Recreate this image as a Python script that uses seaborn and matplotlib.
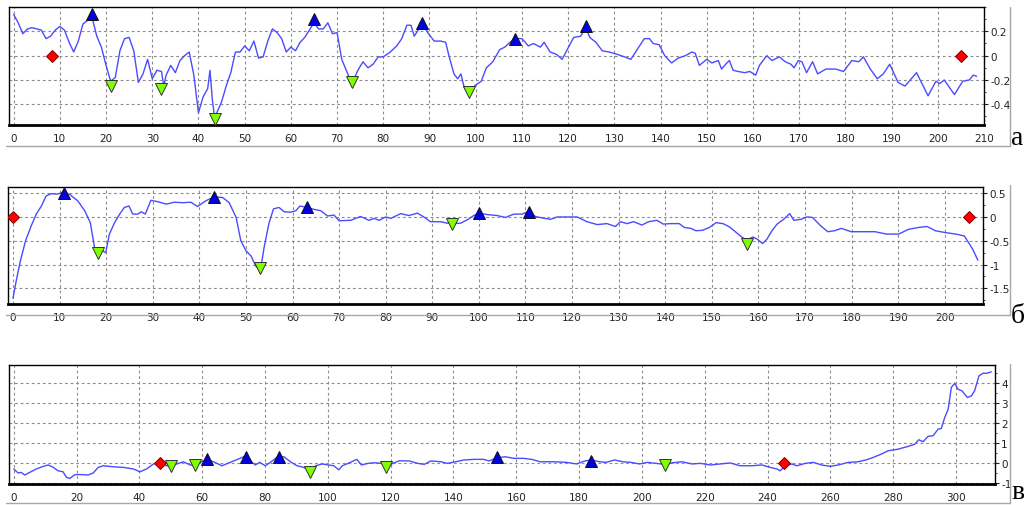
import numpy as np
import matplotlib
matplotlib.use("Agg")
import matplotlib.pyplot as plt
import seaborn as sns
from matplotlib.lines import Line2D
from matplotlib.ticker import MultipleLocator

# --- panel a ---
a_x = [0, 1, 2, 3, 4, 5, 6, 7, 8, 9, 10, 11, 12, 13, 14, 15, 16, 17, 18, 19, 20, 21, 22, 23, 24, 25,
       26, 27, 28, 29, 30, 31, 32, 32.5, 33, 34, 35, 36, 37, 38, 39, 40, 41, 42, 42.5, 43, 43.5, 45,
       46, 47, 48, 49, 50, 51, 52, 53, 54, 55, 56, 57, 58, 59, 60, 61, 62, 63, 64, 65, 66, 67, 68,
       69, 70, 71, 72, 73.2, 74.5, 75.6, 76.7, 77.8, 78.9, 80, 81.5, 82.9, 84, 85.1, 86, 86.7, 87.7,
       88.4, 89.6, 91, 92.4, 93.5, 94.2, 95.3, 96.1, 96.8, 97.5, 98.6, 99.7, 101.2, 102.3, 103.7,
       105.2, 106.3, 107.4, 108.5, 110, 111.4, 112.5, 114, 114.8, 116.1, 117.5, 118.7, 120.1, 121.2,
       122.7, 123.8, 124.7, 126, 127.4, 128.9, 130.7, 132.2, 133.6, 135.1, 136.5, 137.6, 138.4,
       139.7, 140.9, 142.4, 143.8, 145.4, 146.8, 147.5, 148.4, 150, 151.1, 152.5, 153.2, 154.1,
       154.9, 155.7, 156.8, 158.2, 159.3, 160.6, 161.4, 163, 164.1, 165.7, 167, 168.2, 168.9, 169.8,
       170.6, 171.6, 172.9, 174, 175.8, 177.9, 179.6, 181.4, 182.9, 183.9, 185.4, 186.9, 188.2,
       189.6, 191.4, 192.9, 195.4, 197.9, 199.6, 200.4, 201.4, 203.6, 205.4, 206.8, 207.7, 208.4]
a_y = [0.34, 0.27, 0.18, 0.22, 0.23, 0.22, 0.21, 0.14, 0.16, 0.21, 0.24, 0.21, 0.11, 0.03, 0.12,
       0.26, 0.29, 0.31, 0.16, 0.07, -0.08, -0.21, -0.18, 0.04, 0.14, 0.15, 0.04, -0.22, -0.15,
       -0.03, -0.19, -0.12, -0.13, -0.25, -0.16, -0.08, -0.14, -0.04, 0.0, 0.03, -0.16, -0.47,
       -0.34, -0.27, -0.12, -0.36, -0.51, -0.38, -0.25, -0.14, 0.03, 0.03, 0.08, 0.04, 0.12, -0.02,
       -0.01, 0.12, 0.22, 0.19, 0.14, 0.03, 0.07, 0.04, 0.11, 0.15, 0.21, 0.27, 0.22, 0.22, 0.27,
       0.18, 0.19, -0.03, -0.12, -0.23, -0.12, -0.05, -0.10, -0.07, -0.01, -0.01, 0.03, 0.08, 0.14,
       0.25, 0.25, 0.16, 0.22, 0.27, 0.19, 0.12, 0.12, 0.11, 0.0, -0.15, -0.19, -0.15, -0.26, -0.32,
       -0.25, -0.21, -0.10, -0.05, 0.05, 0.07, 0.11, 0.14, 0.14, 0.08, 0.10, 0.07, 0.11, 0.03, 0.01,
       -0.03, 0.07, 0.15, 0.16, 0.23, 0.15, 0.11, 0.04, 0.03, 0.01, -0.01, -0.03, 0.06, 0.14, 0.14,
       0.10, 0.09, 0.0, -0.06, -0.02, 0.0, 0.03, 0.02, -0.08, -0.03, -0.06, -0.04, -0.11, -0.07,
       -0.04, -0.12, -0.13, -0.14, -0.13, -0.16, -0.08, 0.0, -0.04, -0.01, -0.05, -0.07, -0.10,
       -0.04, -0.05, -0.14, -0.05, -0.15, -0.11, -0.11, -0.13, -0.04, -0.05, -0.01, -0.11, -0.19,
       -0.15, -0.07, -0.22, -0.25, -0.14, -0.33, -0.21, -0.23, -0.20, -0.32, -0.21, -0.20, -0.16,
       -0.17]
a_up_x = [17, 65, 88.4, 108.5, 123.8]
a_up_y = [0.34, 0.30, 0.27, 0.14, 0.24]
a_dn_x = [21, 32, 43.5, 73.2, 98.6]
a_dn_y = [-0.25, -0.27, -0.52, -0.22, -0.30]
a_end_x = [8.3, 205]
a_end_y = [0, 0]

# --- panel b ---
b_x = [0, 0.7, 1.6, 2.7, 3.9, 5, 6.1, 7.1, 8.2, 9.3, 10.7, 12.1, 13.9, 15.4, 16.6, 17.5, 18.2,
       18.9, 19.9, 20.7, 21.8, 22.9, 23.9, 24.9, 25.7, 26.8, 27.5, 28.4, 29.6, 31.1, 32.9, 34.6,
       36.4, 38.2, 39.6, 41.4, 43.1, 45, 46.4, 47.9, 48.9, 50, 51.1, 52.1, 53.1, 53.9, 54.9, 55.9,
       57.1, 58.2, 59.6, 60.7, 61.6, 63.2, 64.6, 66.1, 67.5, 68.9, 70, 72.5, 74.6, 76.4, 77.5, 78.6,
       80, 81.1, 83.2, 85, 86.8, 88.2, 89.6, 91.8, 93.2, 94.3, 96.1, 97.5, 98.9, 100, 101.8, 103.9,
       105.7, 107.5, 109.3, 110.7, 112.1, 113.6, 115.4, 116.8, 118.9, 121.1, 123.2, 125.4, 127.5,
       129.3, 130.4, 131.8, 133.2, 135, 136.4, 138.2, 139.6, 141.1, 143, 144.1, 145.5, 146.6, 148,
       149.5, 150.9, 152.4, 153.8, 155.3, 156.4, 157.5, 158.8, 159.8, 160.9, 161.8, 162.9, 164,
       165.4, 166.7, 167.6, 169.1, 170.4, 171.6, 173.4, 174.9, 176.3, 177.8, 179.9, 182.5, 185,
       187.5, 190.1, 192.2, 194.4, 196.2, 198, 200.2, 202.4, 204.2, 205.1, 206, 207.1]
b_y = [-1.71, -1.34, -0.92, -0.50, -0.19, 0.06, 0.23, 0.44, 0.49, 0.48, 0.51, 0.48, 0.34, 0.13,
       -0.12, -0.64, -0.71, -0.70, -0.75, -0.36, -0.12, 0.06, 0.20, 0.23, 0.06, 0.06, 0.11, 0.06,
       0.35, 0.32, 0.27, 0.31, 0.30, 0.31, 0.22, 0.34, 0.42, 0.41, 0.30, -0.01, -0.50, -0.71, -0.82,
       -1.03, -1.13, -0.64, -0.15, 0.17, 0.20, 0.11, 0.10, 0.13, 0.23, 0.20, 0.16, 0.13, 0.02, 0.04,
       -0.08, -0.07, 0.01, -0.07, -0.03, -0.07, 0.0, -0.03, 0.07, 0.03, 0.08, 0.0, -0.10, -0.10,
       -0.13, -0.14, -0.13, -0.06, 0.03, 0.08, 0.05, 0.03, -0.01, 0.06, 0.06, 0.12, 0.01, -0.02,
       -0.05, 0.0, 0.0, 0.0, -0.10, -0.16, -0.14, -0.20, -0.10, -0.14, -0.10, -0.17, -0.10, -0.07,
       -0.15, -0.14, -0.14, -0.22, -0.24, -0.29, -0.28, -0.22, -0.12, -0.14, -0.21, -0.33, -0.42,
       -0.49, -0.42, -0.47, -0.56, -0.47, -0.29, -0.15, -0.05, 0.07, -0.07, -0.05, 0.0, -0.01,
       -0.19, -0.31, -0.29, -0.24, -0.31, -0.31, -0.31, -0.36, -0.36, -0.26, -0.22, -0.20, -0.29,
       -0.33, -0.36, -0.40, -0.54, -0.68, -0.91]
b_up_x = [10.9, 43.1, 63.2, 100, 110.7]
b_up_y = [0.50, 0.41, 0.20, 0.08, 0.10]
b_dn_x = [18.2, 53.1, 94.3, 157.5]
b_dn_y = [-0.75, -1.08, -0.14, -0.57]
b_end_x = [0, 205.3]
b_end_y = [0, 0]

# --- panel v ---
v_x = [0, 1.4, 2.4, 3.5, 5.1, 7.2, 9.4, 11, 12.6, 14.1, 15.7, 16.8, 17.9, 19.5, 21.6, 23.7, 25.3,
       26.9, 28.5, 31.7, 34.9, 38.1, 40.2, 42.3, 44.5, 46.6, 48.7, 50, 51.9, 54, 56.2, 57.8, 59.4,
       61.5, 63.6, 66.3, 68.9, 71.6, 74, 75.3, 76.9, 78.3, 80.1, 81.7, 83.8, 86, 88.1, 90.2, 92.3,
       94.3, 96.1, 98.2, 100.3, 101.9, 103.5, 104.6, 106.5, 109.2, 110.7, 112.8, 114.9, 117.1,
       118.6, 120.7, 122.8, 126, 128.6, 130.7, 132.8, 136, 138.1, 140.7, 143.4, 146.5, 149.7,
       151.3, 153.9, 156.5, 159.2, 162.3, 164.9, 167.6, 171.8, 176, 179.2, 181.8, 183.9, 186.5,
       188.6, 191.3, 193.9, 196.5, 199.2, 201.8, 204.4, 207.4, 209.7, 212.8, 216, 218.6, 221.8,
       225, 228.1, 231.3, 235, 238.2, 240.8, 243, 244, 245.6, 247.7, 249.3, 252, 254.6, 257.2,
       259.9, 262.5, 265.7, 268.9, 271.5, 273.7, 276.3, 278.4, 281.6, 284.8, 286.9, 288.1, 289.5,
       291.1, 292.7, 294.3, 295.3, 296.4, 297.5, 298.5, 299.6, 300.6, 301.9, 303.6, 304.9, 305.9,
       307.3, 308.6, 309.9, 311.2]
v_y = [-0.28, -0.48, -0.45, -0.58, -0.45, -0.28, -0.15, -0.08, -0.20, -0.37, -0.42, -0.70, -0.75,
       -0.56, -0.56, -0.58, -0.48, -0.20, -0.12, -0.17, -0.20, -0.28, -0.42, -0.28, -0.03, 0.05,
       -0.12, -0.15, -0.03, 0.08, -0.08, -0.12, 0.05, 0.18, 0.08, -0.12, 0.05, 0.22, 0.38, 0.13,
       -0.08, 0.05, -0.12, 0.05, 0.30, 0.33, 0.08, -0.12, -0.20, -0.37, -0.12, -0.03, -0.08, -0.12,
       -0.32, -0.12, 0.0, 0.20, -0.08, 0.0, 0.03, 0.0, -0.17, 0.0, 0.13, 0.12, 0.0, -0.05, 0.12,
       0.08, 0.0, 0.08, 0.17, 0.20, 0.20, 0.12, 0.28, 0.33, 0.25, 0.25, 0.20, 0.08, 0.08, 0.05,
       -0.03, 0.12, 0.17, 0.08, 0.05, 0.17, 0.08, 0.05, -0.03, 0.05, 0.0, -0.05, 0.03, 0.08, -0.03,
       0.0, -0.08, -0.03, 0.02, -0.12, -0.12, -0.08, -0.20, -0.28, -0.37, -0.12, -0.03, -0.12, 0.0,
       0.05, -0.08, -0.15, -0.08, 0.05, 0.08, 0.18, 0.30, 0.47, 0.63, 0.71, 0.85, 0.96, 1.18, 1.08,
       1.35, 1.38, 1.71, 1.74, 2.29, 2.71, 3.79, 4.0, 3.70, 3.62, 3.29, 3.37, 3.62, 4.37, 4.50,
       4.50, 4.57]
v_up_x = [61.5, 74, 84.3, 153.9, 183.9]
v_up_y = [0.22, 0.33, 0.33, 0.33, 0.13]
v_dn_x = [50, 57.8, 94.3, 118.6, 207.4]
v_dn_y = [-0.15, -0.08, -0.42, -0.17, -0.08]
v_end_x = [46.6, 245.3]
v_end_y = [0, 0]

sns.set_style("white")
plt.rcParams["axes.unicode_minus"] = False
plt.rcParams["font.family"] = ["DejaVu Sans"]

W, H = 1024, 506
fig = plt.figure(figsize=(W / 100, H / 100), dpi=100)


def px_axes(left, top, right, bottom):
    return fig.add_axes([left / W, 1 - bottom / H, (right - left) / W, (bottom - top) / H])


def style(ax, xlim, ylim, xstep, ystep, ymin_tick, ymax_tick):
    ax.set_xlim(*xlim)
    ax.set_ylim(*ylim)
    ax.set_xticks(np.arange(0, xlim[1] + 0.01, xstep))
    ax.xaxis.set_minor_locator(MultipleLocator(2))
    ax.set_yticks(np.arange(ymin_tick, ymax_tick + 1e-6, ystep))
    ax.yaxis.set_minor_locator(MultipleLocator(ystep / 2))
    ax.yaxis.tick_right()
    ax.yaxis.set_major_formatter(plt.FuncFormatter(lambda v, p: f"{v:g}"))
    ax.grid(True, which="major", color="#8c8c8c", linestyle=(0, (2.5, 2.5)), linewidth=0.8)
    ax.tick_params(axis="x", which="major", direction="in", length=4, labelsize=7.5,
                   pad=6, colors="#222222", width=0.8)
    ax.tick_params(axis="x", which="minor", direction="in", length=2, width=0.6)
    ax.tick_params(axis="y", which="major", direction="out", length=3, labelsize=7.5,
                   pad=1.5, colors="#222222", width=0.8, right=True, left=False)
    ax.tick_params(axis="y", which="minor", direction="out", length=1.5, right=True, left=False)
    for s in ax.spines.values():
        s.set_color("black")
        s.set_linewidth(1.0)
    ax.spines["bottom"].set_linewidth(2.0)
    ax.set_xlabel("")
    ax.set_ylabel("")


def draw(ax, x, y, upx, upy, dnx, dny, ex, ey):
    sns.lineplot(x=x, y=y, ax=ax, color="#4b4bff", linewidth=1.0, sort=False, estimator=None)
    ax.plot(dnx, dny, linestyle="none", marker="v", markersize=8, markerfacecolor="#80ff00",
            markeredgecolor="#333333", markeredgewidth=0.7, zorder=5)
    ax.plot(upx, upy, linestyle="none", marker="^", markersize=8, markerfacecolor="#0000e0",
            markeredgecolor="#111111", markeredgewidth=0.7, zorder=5)
    ax.plot(ex, ey, linestyle="none", marker="D", markersize=6, markerfacecolor="#ff0000",
            markeredgecolor="#800000", markeredgewidth=0.7, zorder=5)


ax1 = px_axes(9, 8, 984, 126)
draw(ax1, a_x, a_y, a_up_x, a_up_y, a_dn_x, a_dn_y, a_end_x, a_end_y)
style(ax1, (-1, 210), (-0.57, 0.40), 10, 0.2, -0.4, 0.2)

ax2 = px_axes(8, 188, 983, 305)
draw(ax2, b_x, b_y, b_up_x, b_up_y, b_dn_x, b_dn_y, b_end_x, b_end_y)
style(ax2, (-1.07, 208.2), (-1.83, 0.63), 10, 0.5, -1.5, 0.5)

ax3 = px_axes(9, 366, 995, 485)
draw(ax3, v_x, v_y, v_up_x, v_up_y, v_dn_x, v_dn_y, v_end_x, v_end_y)
style(ax3, (-1.5, 312.4), (-1.03, 4.91), 20, 1, -1, 4)

# panel frames and letters
frames = [(8, 147, "а", 145), (186, 316, "б", 323), (365, 504, "в", 499)]
for top, bottom, letter, base in frames:
    fig.add_artist(Line2D([6 / W, 1010 / W], [1 - bottom / H] * 2, color="#a8a8a8", linewidth=1))
    fig.add_artist(Line2D([1010 / W] * 2, [1 - top / H, 1 - bottom / H], color="#a8a8a8", linewidth=1))
    fig.text(1011 / W, 1 - base / H, letter, fontsize=20, family="Liberation Serif",
             ha="left", va="baseline", color="black")

fig.savefig("out.png", dpi=100)
